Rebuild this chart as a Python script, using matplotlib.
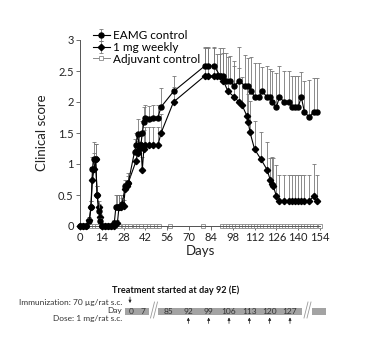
import matplotlib
matplotlib.use('Agg')
import matplotlib.pyplot as plt
from matplotlib.patches import Rectangle

plt.rcParams['font.family'] = ['Lato', 'DejaVu Sans']

# EAMG control (circles)
ctrl_days = [0, 2, 4, 6, 7, 8, 9, 10, 11, 12, 13, 14, 16, 18, 20, 22, 23, 24, 25, 27,
             29, 31, 35, 36, 37, 38, 39, 40, 41, 42, 44, 47, 50, 52, 60, 80, 82, 86,
             90, 92, 94, 96, 99, 102, 106, 108, 110, 112, 115, 117, 120, 122, 123,
             126, 128, 131, 134, 136, 138, 140, 142, 144, 147, 150, 152]
ctrl_vals = [0, 0, 0, 0.08, 0.3, 0.92, 1.08, 1.08, 0.5, 0.25, 0.08, 0, 0, 0, 0, 0.05, 0.3, 0.3, 0.3, 0.35,
             0.64, 0.7, 1.2, 1.3, 1.48, 1.3, 1.3, 1.5, 1.67, 1.75, 1.73, 1.75, 1.75, 1.92, 2.17, 2.58, 2.58, 2.58,
             2.42, 2.42, 2.34, 2.34, 2.26, 2.34, 2.26, 2.26, 2.17, 2.08, 2.08, 2.17, 2.08, 2.08, 2.0,
             1.92, 2.08, 2.0, 2.0, 1.92, 1.92, 1.92, 2.08, 1.84, 1.76, 1.84, 1.84]
ctrl_err = [0, 0, 0, 0.05, 0.1, 0.2, 0.27, 0.25, 0.15, 0.1, 0.05, 0, 0, 0, 0, 0.05, 0.2, 0.2, 0.2, 0.1,
            0.1, 0.1, 0.2, 0.2, 0.25, 0.2, 0.2, 0.2, 0.25, 0.2, 0.2, 0.2, 0.2, 0.3, 0.25, 0.3, 0.3, 0.3,
            0.45, 0.45, 0.45, 0.4, 0.4, 0.55, 0.5, 0.45, 0.55, 0.55, 0.55, 0.4, 0.5, 0.45, 0.5,
            0.55, 0.5, 0.5, 0.5, 0.5, 0.5, 0.5, 0.4, 0.5, 0.6, 0.55, 0.55]

# 1 mg weekly (diamonds)
trt_days = [0, 2, 4, 6, 7, 8, 9, 10, 11, 12, 13, 14, 16, 18, 20, 22, 24, 25, 26, 28,
            29, 30, 31, 36, 37, 38, 39, 40, 41, 42, 44, 47, 50, 52, 60, 80, 82, 86,
            88, 90, 92, 95, 99, 102, 104, 107, 108, 109, 112, 116, 120, 122, 123, 124,
            126, 128, 131, 134, 136, 138, 140, 142, 144, 147, 150, 152]
trt_vals = [0, 0, 0, 0.1, 0.3, 0.75, 0.92, 1.08, 0.5, 0.3, 0.15, 0, 0, 0, 0, 0, 0.05, 0.3, 0.3, 0.32,
            0.6, 0.65, 0.7, 1.05, 1.17, 1.25, 1.3, 0.91, 1.25, 1.3, 1.3, 1.3, 1.3, 1.5, 2.0, 2.42, 2.42, 2.42,
            2.42, 2.42, 2.34, 2.17, 2.08, 2.0, 1.95, 1.78, 1.68, 1.52, 1.24, 1.08, 0.91, 0.75, 0.67, 0.65,
            0.48, 0.4, 0.4, 0.4, 0.4, 0.4, 0.4, 0.4, 0.4, 0.4, 0.48, 0.4]
trt_err = [0, 0, 0, 0.05, 0.1, 0.2, 0.25, 0.25, 0.15, 0.1, 0.05, 0, 0, 0, 0, 0, 0.05, 0.2, 0.2, 0.1,
           0.1, 0.1, 0.15, 0.2, 0.2, 0.2, 0.2, 0.2, 0.3, 0.3, 0.3, 0.3, 0.3, 0.3, 0.25, 0.45, 0.45, 0.45,
           0.35, 0.35, 0.45, 0.55, 0.5, 0.55, 0.45, 0.5, 0.45, 0.5, 0.46, 0.44, 0.44, 0.35, 0.45, 0.45,
           0.5, 0.43, 0.43, 0.43, 0.43, 0.43, 0.43, 0.43, 0.43, 0.43, 0.52, 0.43]

# Adjuvant control (open squares)
adj_days = [0, 2, 4, 7, 9, 11, 14, 16, 18, 21, 23, 25, 28, 30, 32, 35, 37, 39, 42, 44,
            46, 49, 51, 58, 79, 91, 93, 95, 97, 99, 101, 103, 105, 107, 109, 111, 113, 115,
            117, 119, 121, 123, 125, 127, 129, 131, 133, 135, 137, 139, 141, 143, 145, 147,
            149, 151, 154]
adj_vals = [0] * len(adj_days)

x_ticks = [0, 14, 28, 42, 56, 70, 84, 98, 112, 126, 140, 154]
y_ticks = [0, 0.5, 1, 1.5, 2, 2.5, 3]
y_ticklabels = ['0', '0.5', '1', '1.5', '2', '2.5', '3']

# schedule diagram
sched_days_a = [0, 7]
sched_days_b = [85, 92, 99, 106, 113, 120, 127]
dose_days = [92, 99, 106, 113, 120, 127]

W, H = 365, 341
fig = plt.figure(figsize=(W / 100, H / 100), dpi=100)
ax = fig.add_axes([80 / W, 1 - 226 / H, 240 / W, 186 / H])

axis_col = '#555555'
ax.errorbar(adj_days, adj_vals, color='#8a8a8a', lw=0.7, marker='s', ms=3,
            mfc='white', mec='#8a8a8a', mew=0.6, label='Adjuvant control', zorder=2, clip_on=False)
ax.errorbar(trt_days, trt_vals, yerr=[[0] * len(trt_err), trt_err], color='black', lw=0.8,
            marker='D', ms=3.2, ecolor='#777777', elinewidth=0.6, capsize=1.5, capthick=0.6,
            label='1 mg weekly', zorder=3, clip_on=False)
ax.errorbar(ctrl_days, ctrl_vals, yerr=[[0] * len(ctrl_err), ctrl_err], color='black', lw=0.8,
            marker='o', ms=3.6, ecolor='#777777', elinewidth=0.6, capsize=1.5, capthick=0.6,
            label='EAMG control', zorder=4, clip_on=False)

ax.set_xlim(0, 154)
ax.set_ylim(0, 3)
ax.set_xticks(x_ticks)
ax.set_yticks(y_ticks)
ax.set_yticklabels(y_ticklabels)
for s in ['top', 'right']:
    ax.spines[s].set_visible(False)
for s in ['left', 'bottom']:
    ax.spines[s].set_color(axis_col)
    ax.spines[s].set_linewidth(0.7)
ax.tick_params(colors=axis_col, labelcolor='#222222', labelsize=8, length=3, width=0.6, pad=1.5)
ax.set_xlabel('Days', fontsize=9.5, labelpad=1, color='#222222')
ax.set_ylabel('Clinical score', fontsize=9.5, labelpad=7, color='#222222')

h, l = ax.get_legend_handles_labels()
order = [l.index('EAMG control'), l.index('1 mg weekly'), l.index('Adjuvant control')]
ax.legend([h[i] for i in order], [l[i] for i in order], loc='upper left',
          bbox_to_anchor=(0.025, 1.09), frameon=False, fontsize=8.5, handlelength=1.4,
          handletextpad=0.25, labelspacing=0.05, borderaxespad=0.2)

# schedule panel in pixel coordinates
ov = fig.add_axes([0, 0, 1, 1], zorder=-1)
ov.set_xlim(0, W)
ov.set_ylim(H, 0)
ov.axis('off')

bar_col = '#a3a3a3'
bar_y, bar_h = 307.5, 7.5
for x0, x1 in [(125, 149), (158, 302), (312, 326)]:
    ov.add_patch(Rectangle((x0, bar_y), x1 - x0, bar_h, color=bar_col, lw=0))
for xb in [150.5, 304]:
    for dx in [0, 3]:
        ov.plot([xb + dx, xb + dx + 4], [318, 302], color='#999999', lw=0.6)


def pos_a(d):
    return 131 + (d - 0) * (143 - 131) / 7


def pos_b(d):
    return 168 + (d - 85) * (290 - 168) / 42


tc = '#333333'
fs = 6.0
for d in sched_days_a:
    ov.text(pos_a(d), bar_y + bar_h / 2 + 0.3, str(d), ha='center', va='center', fontsize=fs, color=tc)
for d in sched_days_b:
    ov.text(pos_b(d), bar_y + bar_h / 2 + 0.3, str(d), ha='center', va='center', fontsize=fs, color=tc)
ov.annotate('', xy=(pos_a(0) - 1, 303), xytext=(pos_a(0) - 1, 297),
            arrowprops=dict(arrowstyle='-|>', lw=0.5, color='#222222', mutation_scale=4,
                            shrinkA=0, shrinkB=0))
for d in dose_days:
    ov.annotate('', xy=(pos_b(d), 317.5), xytext=(pos_b(d), 323.5),
                arrowprops=dict(arrowstyle='-|>', lw=0.5, color='#222222', mutation_scale=4,
                                shrinkA=0, shrinkB=0))

ov.text(176, 290, 'Treatment started at day 92 (E)', ha='center', va='center',
        fontsize=6.6, fontweight='bold', color='#111111')
ov.text(122, 302.5, 'Immunization: 70 µg/rat s.c.', ha='right', va='center', fontsize=fs, color=tc)
ov.text(122, 310.5, 'Day', ha='right', va='center', fontsize=fs, color=tc)
ov.text(122, 318.5, 'Dose: 1 mg/rat s.c.', ha='right', va='center', fontsize=fs, color=tc)

fig.savefig('out.png', dpi=100)
